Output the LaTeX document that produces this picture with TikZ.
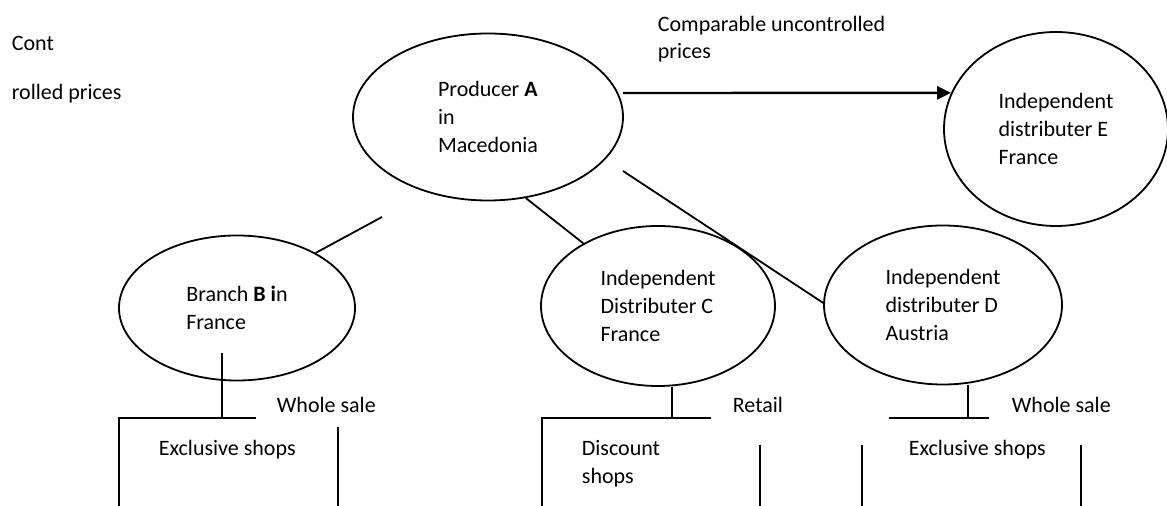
\documentclass[tikz,border=0pt]{standalone}
\usepackage{fontspec}
\setmainfont{Carlito}
\usetikzlibrary{shapes.geometric,arrows.meta,positioning}

\begin{document}
\begin{tikzpicture}[
        x=0.5pt,y=-0.5pt,
        line width=0.9pt,
        font=\fontsize{11}{13.8}\selectfont,
        ell/.style={draw,ellipse,align=left,inner sep=0pt},
        lbl/.style={anchor=west,align=left,inner sep=0pt}
    ]
    \useasboundingbox (0,0) rectangle (1167,506);

    % firms
    \node (A) [ell,minimum width=135pt,minimum height=83.5pt] at (488,117) {Producer \textbf{A}\\in\\Macedonia};
    \node (B) [ell,minimum width=118pt,minimum height=72.5pt] at (237,308) {Branch \textbf{B i}n\\France};
    \node (C) [ell,minimum width=117pt,minimum height=80pt]   at (658,306) {Independent\\Distributer C\\France};
    \node (D) [ell,minimum width=119pt,minimum height=79.5pt] at (943,305) {Independent\\distributer D\\Austria};
    \node (E) [ell,minimum width=112pt,minimum height=97pt]   at (1056,129) {Independent\\distributer E\\France};

    % links from the producer
    \coordinate (ab) at (382,217);
    \coordinate (ad) at (623,171);
    \coordinate (ae) at (623,93);
    \draw (B.35) -- (ab);
    \draw (A.-65) -- (C.140);
    \draw (ad) -- (D.179);
    \draw [-{Triangle[length=7pt,width=6.5pt]},line width=1.2pt] (ae) -- (E.161);

    % text beside the links
    \node (cont)   [lbl] at (11,43)  {Cont};
    \node (rolled) [lbl] at (11,94)  {rolled prices};
    \node (cup)    [lbl] at (657,39) {Comparable uncontrolled\\prices};

    % branch B
    \coordinate (bs) at (222,353);
    \coordinate (bt) at (222,418);
    \draw (bs) -- (bt);
    \draw (119,506) -- (119,418) -- (256,418);
    \draw (338,427) -- (338,506);
    \node (ws1) [lbl] at (276,405) {Whole sale};
    \node (ex1) [lbl] at (158,450) {Exclusive shops};

    % distributer C
    \coordinate (ct) at (672,418);
    \draw (C.south -| ct) -- (ct);
    \draw (542,506) -- (542,418) -- (711,418);
    \draw (760,445) -- (760,506);
    \node (rt) [lbl] at (732,405) {Retail};
    \node (ds) [lbl] at (581,464) {Discount\\shops};

    % distributer D
    \coordinate (dt) at (968,418);
    \draw (D.south -| dt) -- (dt);
    \draw (889,418) -- (989,418);
    \draw (862,445) -- (862,506);
    \draw (1081,445) -- (1081,506);
    \node (ws2) [lbl] at (1011,405) {Whole sale};
    \node (ex2) [lbl] at (908,450) {Exclusive shops};
\end{tikzpicture}
\end{document}
